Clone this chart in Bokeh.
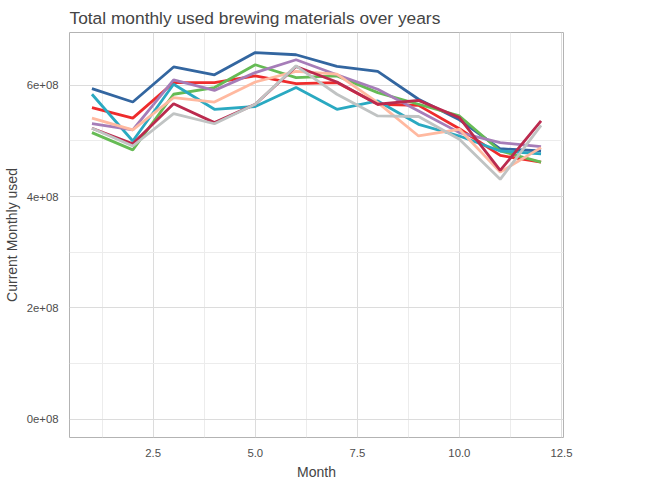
from bokeh.plotting import figure
from bokeh.models import Range1d, Legend, LegendItem, FixedTicker, CustomJSTickFormatter
from bokeh.embed import file_html
from bokeh.resources import INLINE

months = list(range(1, 13))
years = ["2008", "2009", "2010", "2011", "2012", "2013", "2014", "2015"]
colors = ["#3366a0", "#ee2c2c", "#66bb55", "#2aa9c1", "#a67db8", "#ffb9a0", "#bb2a4e", "#c0c3c3"]

# values in units of 1e8
used = {
    "2008": [5.94, 5.70, 6.33, 6.19, 6.59, 6.55, 6.34, 6.25, 5.75, 5.38, 4.86, 4.82],
    "2009": [5.60, 5.41, 6.05, 6.05, 6.17, 6.03, 6.05, 5.66, 5.64, 5.22, 4.74, 4.62],
    "2010": [5.15, 4.84, 5.84, 5.96, 6.37, 6.14, 6.17, 5.87, 5.66, 5.45, 4.82, 4.62],
    "2011": [5.84, 5.00, 6.02, 5.57, 5.62, 5.96, 5.57, 5.72, 5.30, 5.09, 4.82, 4.77],
    "2012": [5.31, 5.20, 6.10, 5.91, 6.23, 6.46, 6.19, 5.93, 5.54, 5.15, 4.97, 4.90],
    "2013": [5.41, 5.20, 5.78, 5.70, 6.06, 6.25, 6.20, 5.69, 5.09, 5.21, 4.44, 4.88],
    "2014": [5.23, 4.95, 5.67, 5.33, 5.66, 6.34, 6.06, 5.66, 5.73, 5.42, 4.47, 5.36],
    "2015": [5.23, 4.91, 5.49, 5.31, 5.66, 6.35, 5.84, 5.45, 5.44, 5.03, 4.31, 5.28],
}

p = figure(frame_width=494, frame_height=405, output_backend="svg", toolbar_location=None,
           x_range=Range1d(0.45, 12.55), y_range=Range1d(-0.33e8, 6.95e8),
           title="Total monthly used brewing materials over years",
           x_axis_label="Month", y_axis_label="Current Monthly used",
           min_border_left=59, min_border_bottom=37, min_border_top=8, min_border_right=0)

items = []
for yr, c in zip(years, colors):
    r = p.line(months, [v * 1e8 for v in used[yr]], line_color=c, line_width=2.8)
    items.append(LegendItem(label=yr, renderers=[r]))

legend = Legend(items=items, title="factor(year)", location="center",
                border_line_color=None, label_text_font_size="9.5pt",
                title_text_font_size="11pt", title_text_font_style="normal",
                label_text_font="Liberation Sans", title_text_font="Liberation Sans",
                glyph_width=22, spacing=6, margin=10, padding=6)
p.add_layout(legend, "right")

p.title.text_font = "Liberation Sans"
p.title.text_font_size = "13pt"
p.title.text_font_style = "normal"
p.xaxis.ticker = FixedTicker(ticks=[2.5, 5.0, 7.5, 10.0, 12.5],
                             minor_ticks=[1.25, 3.75, 6.25, 8.75, 11.25])
p.xaxis.formatter = CustomJSTickFormatter(code="return tick.toFixed(1);")
p.yaxis.ticker = FixedTicker(ticks=[0, 2e8, 4e8, 6e8], minor_ticks=[1e8, 3e8, 5e8])
p.yaxis.formatter = CustomJSTickFormatter(code="return (tick/1e8).toFixed(0) + 'e+08';")
for ax in [p.xaxis, p.yaxis]:
    ax.axis_line_color = None
    ax.major_tick_line_color = None
    ax.minor_tick_line_color = None
    ax.major_label_text_color = "#4d4d4d"
    ax.major_label_text_font = "Liberation Sans"
    ax.major_label_text_font_size = "8.5pt"
    ax.axis_label_text_font = "Liberation Sans"
    ax.axis_label_text_font_style = "normal"
    ax.axis_label_text_font_size = "10.5pt"
    ax.axis_label_standoff = 4
for g in [p.xgrid, p.ygrid]:
    g.grid_line_color = "#dcdcdc"
    g.minor_grid_line_color = "#ececec"
p.outline_line_color = "#b3b3b3"

open("out.html", "w").write(file_html(p, INLINE))
